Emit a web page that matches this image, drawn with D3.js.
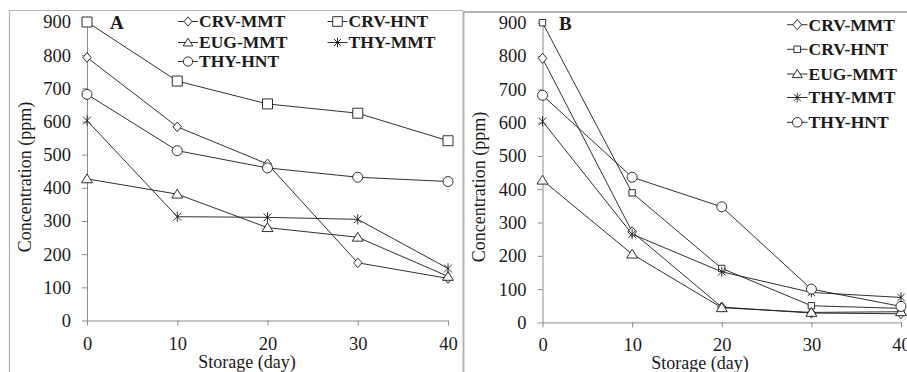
<!DOCTYPE html>
<html><head><meta charset="utf-8">
<script src="https://cdn.jsdelivr.net/npm/d3@7"></script>
<style>body{margin:0;background:#fff}svg{display:block}</style>
</head><body>
<svg id="c" width="907" height="372"></svg>
<script>
const days = [0, 10, 20, 30, 40];
const seriesNames = ["CRV-MMT", "CRV-HNT", "EUG-MMT", "THY-MMT", "THY-HNT"];
const yTicks = [0, 100, 200, 300, 400, 500, 600, 700, 800, 900];
const xTicks = [0, 10, 20, 30, 40];
// Panel A values
const A_CRV_MMT = [793, 584, 472, 174, 127];
const A_CRV_HNT = [900, 722, 653, 625, 542];
const A_EUG_MMT = [427, 381, 280, 251, 133];
const A_THY_MMT = [603, 313, 311, 305, 157];
const A_THY_HNT = [682, 512, 460, 432, 419];
// Panel B values
const B_CRV_MMT = [793, 272, 46, 28, 26];
const B_CRV_HNT = [900, 389, 162, 50, 42];
const B_EUG_MMT = [427, 205, 44, 30, 32];
const B_THY_MMT = [604, 265, 152, 90, 75];
const B_THY_HNT = [682, 436, 347, 100, 48];

const svg = d3.select("#c");
const FONT = '"Liberation Serif", "Times New Roman", serif';
const gray = "#8c8c8c";

function markerPath(kind, s){
  switch(kind){
    case "diamond": return `M0,${-s*1.05}L${s*0.9},0L0,${s*1.05}L${-s*0.9},0Z`;
    case "square": return `M${-s},${-s}H${s}V${s}H${-s}Z`;
    case "triangle": return `M0,${-s*0.95}L${s*1.05},${s*0.75}L${-s*1.05},${s*0.75}Z`;
    case "circle": return `M${s},0A${s},${s} 0 1,1 ${-s},0A${s},${s} 0 1,1 ${s},0Z`;
    case "star": { const d = s*0.75; return `M0,${-s}V${s}M${-d},${-d}L${d},${d}M${-d},${d}L${d},${-d}`; }
  }
}
const kinds = ["diamond", "square", "triangle", "star", "circle"];

function txt(sel){ return sel.style("font-family", FONT).attr("fill", "#1a1a1a"); }

function panel(cfg){
  const g = svg.append("g");
  g.append("path").attr("d", cfg.frame).attr("fill", "none").attr("stroke", "#b4b4b4").attr("stroke-width", cfg.frameW);
  const x = d3.scaleLinear().domain([0, 40]).range(cfg.xr);
  const y = d3.scaleLinear().domain([0, 900]).range(cfg.yr);
  const ya = g.append("g").attr("transform", `translate(${cfg.xr[0]},0)`)
    .call(d3.axisLeft(y).tickValues(yTicks).tickSizeInner(5).tickSizeOuter(0).tickPadding(11));
  const xa = g.append("g").attr("transform", `translate(0,${cfg.yr[0]})`)
    .call(d3.axisBottom(x).tickValues(xTicks).tickSizeInner(5).tickSizeOuter(0));
  [ya, xa].forEach(a => {
    a.attr("font-family", null).attr("font-size", null);
    a.selectAll("path,line").attr("stroke", gray);
    txt(a.selectAll("text")).attr("font-size", 18.5);
  });
  xa.selectAll("text").attr("y", 29).attr("dy", 0);
  txt(g.append("text")).attr("transform", `translate(${cfg.ytx},${cfg.yty}) rotate(-90)`)
    .attr("text-anchor", "middle").attr("font-size", 18)
    .text("Concentration (ppm)");
  txt(g.append("text")).attr("x", cfg.xtx).attr("y", cfg.xty)
    .attr("text-anchor", "middle").attr("font-size", 18)
    .text("Storage (day)");
  txt(g.append("text")).attr("x", cfg.letterX).attr("y", cfg.letterY)
    .attr("font-weight", "bold").attr("font-size", 19).text(cfg.letter);
  const line = d3.line().x((d, i) => x(days[i])).y(d => y(d));
  cfg.data.forEach((vals) => {
    g.append("path").attr("d", line(vals)).attr("fill", "none").attr("stroke", "#1a1a1a").attr("stroke-width", 0.9);
  });
  cfg.data.forEach((vals, si) => {
    const k = kinds[si];
    g.selectAll(null).data(vals).join("path")
      .attr("transform", (d, i) => `translate(${x(days[i])},${y(d)})`)
      .attr("d", markerPath(k, cfg.msize[k]))
      .attr("fill", k === "star" ? "none" : "#fff").attr("stroke", "#1a1a1a").attr("stroke-width", 0.9);
  });
  cfg.legend.forEach((p, si) => {
    const k = kinds[si];
    const lg = g.append("g").attr("transform", `translate(${p[0]},${p[1]})`);
    lg.append("line").attr("x1", 0).attr("x2", cfg.legW).attr("y1", 0).attr("y2", 0).attr("stroke", "#1a1a1a").attr("stroke-width", 0.9);
    lg.append("path").attr("transform", `translate(${cfg.legW/2},0)`).attr("d", markerPath(k, cfg.lsize[k]))
      .attr("fill", k === "star" ? "none" : "#fff").attr("stroke", "#1a1a1a").attr("stroke-width", 0.9);
    txt(lg.append("text")).attr("x", cfg.legW + 1).attr("y", 0).attr("dy", "0.34em")
      .attr("font-weight", "bold").attr("font-size", 17.5).text(seriesNames[si]);
  });
}

panel({
  frame: "M9.5,380V10.5H463", frameW: 1.2,
  xr: [87, 448], yr: [320.5, 22], ytx: 31, yty: 177, xtx: 247, xty: 368,
  letter: "A", letterX: 110, letterY: 29,
  data: [A_CRV_MMT, A_CRV_HNT, A_EUG_MMT, A_THY_MMT, A_THY_HNT],
  msize: {diamond: 4.6, square: 5, triangle: 5.2, circle: 5, star: 5.2},
  lsize: {diamond: 4.4, square: 4.8, triangle: 4.6, circle: 4.6, star: 4.8},
  legW: 20,
  legend: [[178, 21.5], [327.5, 21.5], [178, 42.5], [327.5, 42.5], [178, 61.5]]
});
panel({
  frame: "M463.5,380V12H920", frameW: 2,
  xr: [542.5, 901], yr: [322.4, 22.7], ytx: 485, yty: 187, xtx: 700, xty: 369,
  letter: "B", letterX: 559, letterY: 30,
  data: [B_CRV_MMT, B_CRV_HNT, B_EUG_MMT, B_THY_MMT, B_THY_HNT],
  msize: {diamond: 4.8, square: 3.2, triangle: 5.2, circle: 5, star: 5},
  lsize: {diamond: 4.8, square: 3.3, triangle: 4.8, circle: 4.8, star: 4.8},
  legW: 20.5,
  legend: [[787, 24.7], [787, 49.3], [787, 74], [787, 97.5], [787, 122.3]]
});
</script>
</body></html>
